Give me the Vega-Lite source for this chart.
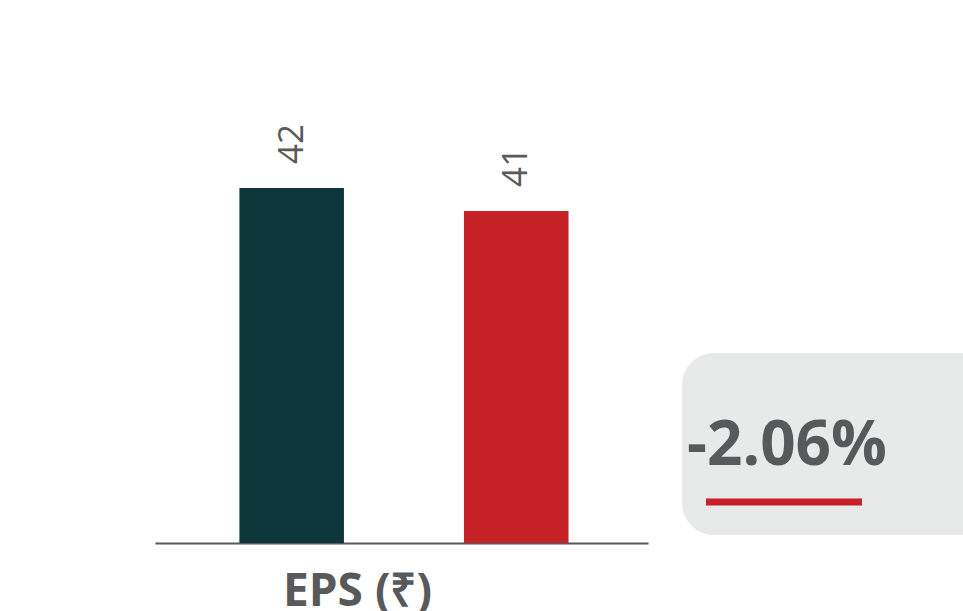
{
  "$schema": "https://vega.github.io/schema/vega-lite/v6.json",
  "padding": {"left": 155, "top": 100, "right": 0, "bottom": 0},
  "background": "white",
  "config": {"view": {"stroke": null}, "font": "Open Sans"},
  "spacing": 34,
  "bounds": "flush",
  "hconcat": [
    {
      "width": 493,
      "height": 443,
      "data": {"values": [{"period": "Previous", "eps": 42}, {"period": "Current", "eps": 41}]},
      "encoding": {
        "x": {
          "field": "period",
          "type": "nominal",
          "sort": null,
          "scale": {"paddingInner": 0.5345, "paddingOuter": 0.365, "align": 0.515},
          "axis": {
            "title": "EPS (₹)",
            "labels": false,
            "ticks": false,
            "domainColor": "#595959",
            "domainWidth": 2,
            "titleFont": "Open Sans",
            "titleFontWeight": 700,
            "titleFontSize": 46,
            "titleColor": "#58595b",
            "titlePadding": 26,
            "titleX": 202,
            "titleAlign": "center"
          }
        },
        "y": {
          "field": "eps",
          "type": "quantitative",
          "scale": {"domain": [26.57, 45.83], "zero": false, "nice": false, "clamp": true},
          "axis": null
        }
      },
      "layer": [
        {
          "mark": {"type": "bar"},
          "encoding": {
            "color": {
              "field": "period",
              "type": "nominal",
              "scale": {"domain": ["Previous", "Current"], "range": ["#0e373b", "#c52127"]},
              "legend": null
            }
          }
        },
        {
          "mark": {"type": "text", "angle": 270, "align": "left", "baseline": "middle", "dx": 24, "fontSize": 35, "color": "#595959", "font": "Open Sans"},
          "encoding": {"text": {"field": "eps", "type": "quantitative"}}
        }
      ]
    },
    {
      "spacing": 0,
      "vconcat": [
        {
          "width": 320,
          "height": 253,
          "data": {"values": [{"t": ""}]},
          "mark": {"type": "text"},
          "encoding": {"text": {"field": "t"}}
        },
        {
          "width": 320,
          "height": 182,
          "view": {"fill": "#e8e9e9", "cornerRadius": 32, "stroke": null},
          "data": {"values": [{"change": "-2.06%"}]},
          "layer": [
            {
              "mark": {"type": "text", "fontSize": 62, "fontWeight": 700, "font": "Open Sans", "color": "#58595b", "align": "center", "baseline": "alphabetic"},
              "encoding": {"text": {"field": "change"}, "x": {"value": 105}, "y": {"value": 112}}
            },
            {
              "mark": {"type": "rule", "color": "#c52127", "strokeWidth": 7},
              "encoding": {"x": {"value": 24}, "x2": {"value": 180}, "y": {"value": 149}}
            }
          ]
        }
      ]
    }
  ]
}
